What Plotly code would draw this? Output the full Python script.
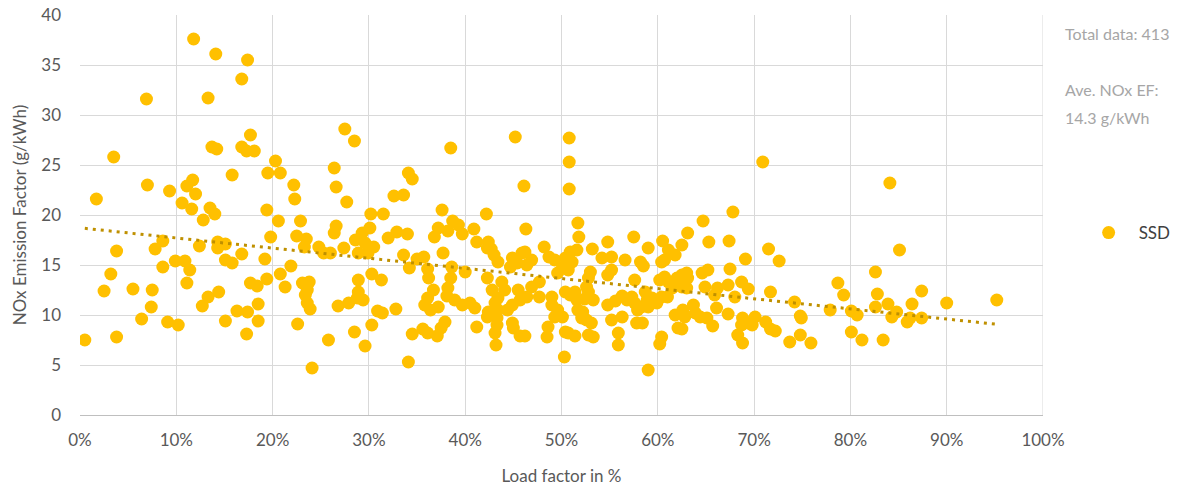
import numpy as np
import plotly.graph_objects as go

# Load factor (%) and NOx emission factor (g/kWh) for the SSD engine sample
load_factor = [
    0.5, 1.7, 2.5, 3.2, 3.5, 3.8, 3.8, 5.5, 6.4, 6.9, 7.0, 7.5, 7.4, 7.8, 8.6, 8.6, 9.1, 9.3, 9.9, 10.2,
    10.6, 10.9, 11.1, 11.1, 11.4, 11.6, 11.7, 11.8, 12.0, 12.4, 12.7, 12.8, 13.3, 13.3, 13.5, 13.7, 14.0, 14.1, 14.2, 14.3,
    14.3, 14.4, 15.1, 15.1, 15.1, 15.8, 15.8, 16.3, 16.8, 16.8, 16.8, 17.3, 17.3, 17.4, 17.4, 17.7, 17.7, 18.1, 18.4, 18.5,
    18.5, 19.2, 19.4, 19.4, 19.5, 19.8, 20.3, 20.6,
    20.8, 22.2, 22.3, 22.9, 26.4, 26.6, 27.7, 27.5, 28.5, 30.2, 31.5, 32.6, 33.6, 34.1, 34.5, 37.6, 38.7, 38.5,
    22.5, 23.5, 23.3, 26.6, 26.4, 24.8, 25.3, 26.0, 27.4, 28.6, 29.3, 30.1, 29.6, 28.9, 29.9, 30.5, 32.0, 32.9, 34.0, 36.8,
    37.2, 38.2, 39.7, 37.7, 33.6, 35.0, 35.7, 34.2, 36.1, 36.2, 36.7, 36.1, 35.8, 36.4, 37.2, 38.6, 38.5, 38.2, 38.1, 38.9,
    39.7, 20.8, 21.3, 21.9, 23.1, 23.8, 23.6, 23.4, 23.6, 23.9, 22.6, 24.1, 25.8, 26.8, 27.9, 28.9, 28.9, 28.8, 29.4, 28.5,
    29.6, 30.3, 31.3, 30.9, 31.4, 32.8, 30.3, 34.5, 35.6, 36.1, 37.1, 37.9, 37.5, 34.1,
    45.2, 50.8, 50.8, 46.1, 50.8, 42.2, 39.3, 40.9, 41.2, 42.4, 42.7, 42.3, 43.0, 43.4, 46.3, 46.2, 45.9, 46.9, 46.4, 44.9,
    44.7, 45.4, 48.2, 48.7, 49.3, 50.9, 51.6, 50.4, 51.1, 50.7, 50.1, 49.6, 51.7, 51.8, 53.2, 54.8, 54.2, 55.2, 56.6, 57.5,
    59.0, 53.0, 52.8, 52.6, 52.8, 55.2, 54.8, 58.2, 58.5, 57.6, 40.0, 42.3, 42.8, 43.8, 44.1, 43.4, 45.5, 45.7, 44.9, 44.4,
    43.4, 43.1, 46.9, 47.7, 47.7, 46.4, 40.5, 41.0, 42.4, 42.3, 43.3, 41.2, 43.3, 43.1, 43.2, 44.9, 45.0, 45.7, 46.2, 48.6,
    48.5, 49.0, 49.0, 49.6, 50.1, 49.3, 50.4, 50.9, 51.4, 51.6, 51.7, 52.2, 52.1, 52.6, 50.7, 51.4, 50.4, 50.3, 53.1, 52.8,
    53.3, 52.4, 53.3, 55.6, 56.3, 56.8, 57.3, 57.6, 57.9, 58.3, 58.9, 59.4, 54.8, 55.2, 56.3, 55.9, 55.9, 57.8, 58.4, 59.0,
    67.8, 64.7, 63.1, 65.3, 67.4, 60.5, 61.1, 61.8, 62.5, 60.4, 60.7, 71.5, 72.6, 69.1, 67.5, 65.2, 64.6, 63.0, 62.5, 63.1,
    62.0, 60.7, 60.2, 61.1, 62.5, 63.0, 61.5, 64.9, 66.2, 65.9, 67.3, 68.7, 69.4, 68.0, 71.7, 58.7, 60.4, 61.0, 59.9, 59.0,
    66.1, 63.7, 62.6, 61.8, 62.8, 63.9, 64.4, 65.1, 67.3, 65.7, 62.5, 62.1, 68.8, 69.4, 70.1, 68.7, 69.8, 68.3, 68.8, 71.2,
    71.7, 72.2, 74.2, 74.8, 74.9, 73.7, 74.8, 75.9, 77.9, 78.7, 79.3, 60.4, 60.2, 70.9,
    84.1, 85.1, 82.6, 80.1, 80.7, 82.8, 87.4, 86.4, 90.0, 95.2, 82.6, 83.9, 84.8, 84.3, 85.9, 86.2, 87.4, 80.1, 81.2, 83.4,
]
nox_ef = [
    7.5, 21.6, 12.4, 14.1, 25.8, 16.4, 7.8, 12.6, 9.6, 31.6, 23.0, 12.5, 10.8, 16.6, 17.4, 14.8, 9.3, 22.4, 15.4, 9.0,
    21.2, 15.4, 22.9, 13.2, 14.5, 20.6, 23.5, 37.6, 22.1, 16.9, 10.9, 19.5, 31.7, 11.8, 20.7, 26.8, 20.1, 36.1, 26.6, 17.3,
    16.7, 12.3, 17.1, 15.5, 9.4, 24.0, 15.2, 10.4, 33.6, 26.8, 16.1, 26.4, 8.1, 35.5, 10.3, 28.0, 13.2, 26.4, 12.9, 11.1,
    9.4, 15.6, 13.6, 20.5, 24.2, 17.8, 25.4, 19.4,
    24.2, 23.0, 21.6, 19.4, 24.7, 22.8, 21.3, 28.6, 27.4, 20.1, 20.1, 21.9, 22.0, 24.2, 23.6, 20.5, 19.4, 26.7,
    17.9, 17.6, 16.8, 18.9, 18.2, 16.8, 16.2, 16.2, 16.7, 17.5, 18.2, 18.7, 17.2, 16.2, 16.2, 16.8, 17.7, 18.3, 18.1, 17.8,
    18.7, 18.4, 18.1, 16.2, 16.0, 15.6, 15.8, 14.7, 14.6, 13.7, 12.5, 11.7, 11.0, 10.5, 10.8, 14.8, 13.7, 12.7, 11.9, 11.5,
    11.0, 14.1, 12.8, 14.9, 13.2, 13.3, 12.5, 12.0, 11.2, 10.6, 9.1, 4.7, 7.5, 10.9, 11.2, 13.5, 12.3, 11.7, 11.5, 8.3,
    6.9, 14.1, 13.5, 10.4, 10.2, 10.6, 9.0, 8.1, 8.6, 8.2, 7.9, 9.3, 8.7, 5.3,
    27.8, 27.7, 25.3, 22.9, 22.6, 20.1, 19.0, 18.6, 17.3, 17.3, 16.6, 16.7, 16.0, 15.3, 18.6, 16.3, 16.2, 15.5, 15.0, 15.7,
    14.8, 15.2, 16.8, 15.8, 15.5, 16.3, 16.5, 15.7, 15.3, 14.5, 14.7, 14.2, 19.2, 17.8, 16.6, 17.3, 15.7, 15.8, 15.5, 17.8,
    16.7, 14.3, 13.7, 12.8, 12.3, 14.5, 14.0, 15.3, 14.9, 13.5, 14.3, 13.7, 12.5, 13.3, 12.5, 11.7, 12.5, 11.5, 11.0, 10.5,
    10.5, 11.2, 12.8, 13.3, 11.8, 11.8, 11.2, 10.7, 10.3, 9.8, 9.7, 8.8, 9.0, 8.2, 7.0, 9.2, 8.7, 7.9, 7.9, 8.8,
    7.8, 11.8, 11.0, 10.5, 9.8, 9.8, 12.3, 12.0, 12.3, 11.5, 10.5, 10.3, 9.7, 9.5, 8.2, 7.9, 8.3, 5.8, 9.2, 8.0,
    7.8, 11.6, 11.5, 11.4, 11.9, 11.5, 11.8, 11.2, 10.5, 10.8, 11.5, 11.7, 11.0, 9.5, 9.8, 8.2, 7.0, 9.2, 9.2, 4.5,
    20.3, 19.4, 18.2, 17.3, 17.4, 17.4, 16.5, 16.0, 17.0, 15.3, 15.5, 16.6, 15.4, 15.6, 14.6, 14.5, 14.2, 14.2, 14.0, 13.7,
    13.7, 13.8, 13.5, 13.3, 12.8, 12.7, 12.7, 12.8, 12.7, 12.0, 13.0, 13.3, 12.6, 11.8, 12.3, 12.3, 11.8, 11.8, 11.2, 10.8,
    10.7, 11.0, 10.5, 10.0, 9.8, 10.2, 9.8, 9.7, 10.1, 8.9, 8.6, 8.7, 9.7, 9.2, 9.8, 9.0, 9.0, 8.0, 7.2, 9.3,
    8.6, 8.4, 11.3, 9.9, 9.7, 7.3, 8.0, 7.2, 10.5, 13.2, 12.0, 7.8, 7.1, 25.3,
    23.2, 16.5, 14.3, 10.4, 10.0, 12.1, 12.4, 11.1, 11.2, 11.5, 10.8, 11.1, 10.3, 9.8, 9.3, 9.7, 9.7, 8.3, 7.5, 7.5,
]

x_ticks = list(range(0, 101, 10))
x_tick_labels = [f"{v}%" for v in x_ticks]
y_ticks = list(range(0, 41, 5))

summary_lines = ["Total data: 413", "Ave. NOx EF:", "14.3 g/kWh"]

# Linear least-squares trend over the sample
lf = np.array(load_factor)
ef = np.array(nox_ef)
slope, intercept = np.polyfit(lf, ef, 1)
trend_x = np.array([lf.min(), lf.max()])
trend_y = intercept + slope * trend_x

FONT = "Lato, 'Open Sans', sans-serif"

fig = go.Figure()
fig.add_trace(go.Scatter(
    x=load_factor, y=nox_ef, mode="markers", name="SSD",
    marker=dict(color="#FFC000", size=13, line=dict(width=0)),
))
fig.add_trace(go.Scatter(
    x=trend_x, y=trend_y, mode="lines", showlegend=False, hoverinfo="skip",
    line=dict(color="#BF9000", width=3, dash="3px,5px"),
))

fig.update_layout(
    width=1202, height=491,
    margin=dict(l=80, r=159, t=15, b=76),
    paper_bgcolor="white", plot_bgcolor="white",
    font=dict(family=FONT, size=17, color="#595959"),
    showlegend=True,
    legend=dict(x=1.037, y=0.455, xanchor="left", yanchor="middle", itemwidth=50,
                font=dict(size=17, color="#404040"), bgcolor="rgba(0,0,0,0)"),
    xaxis=dict(
        range=[0, 100], tickvals=x_ticks, ticktext=x_tick_labels,
        showgrid=True, gridcolor="#D9D9D9", gridwidth=1,
        zeroline=False, showline=True, linecolor="#BFBFBF", linewidth=1,
        ticks="", ticklabelstandoff=10, automargin=False,
        title=dict(text="Load factor in %", font=dict(size=17, color="#595959"), standoff=20),
        tickfont=dict(size=17, color="#595959"),
    ),
    yaxis=dict(
        range=[0, 40], tickvals=y_ticks,
        showgrid=True, gridcolor="#D9D9D9", gridwidth=1,
        zeroline=False, showline=False,
        ticks="", ticklabelstandoff=18, automargin=False,
        title=dict(text="NOx Emission Factor (g/kWh)", font=dict(size=17, color="#595959"), standoff=10),
        tickfont=dict(size=17, color="#595959"),
    ),
)

# Right-hand gridline border at 100 %
fig.add_shape(type="line", xref="x", yref="paper", x0=100, x1=100, y0=0, y1=1,
              line=dict(color="#D9D9D9", width=1))

for text, ypix in zip(summary_lines, [33, 89, 117]):
    fig.add_annotation(
        text=text, xref="paper", yref="paper",
        x=1.021, y=(415 - ypix) / 400, xanchor="left", yanchor="middle",
        showarrow=False, font=dict(size=16, color="#A6A6A6"),
    )

fig.write_html("out.html")
